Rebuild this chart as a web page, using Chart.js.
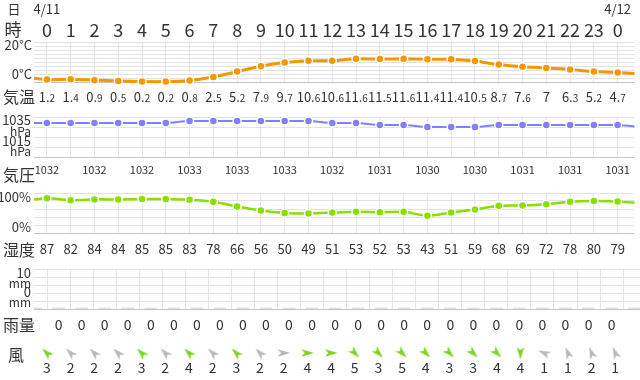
<!DOCTYPE html>
<html><head><meta charset="utf-8">
<script src="https://cdn.jsdelivr.net/npm/chart.js@4.4.1/dist/chart.umd.min.js"></script>
<style>
html,body{margin:0;padding:0;background:#fff;width:640px;height:380px;overflow:hidden;}
canvas{position:absolute;left:0;display:block;}
</style></head><body>
<canvas id="cTemp" width="640" height="110" style="top:0px"></canvas>
<canvas id="cPres" width="640" height="75" style="top:110px"></canvas>
<canvas id="cHum" width="640" height="75" style="top:185px"></canvas>
<canvas id="cRain" width="640" height="77" style="top:260px"></canvas>
<canvas id="cWind" width="640" height="43" style="top:337px"></canvas>
<script>
// ===== data (hour -1 of 4/10 through hour 1 of 4/12; hours -1 and 25 are clipped at the edges) =====
const hours = [-1,0,1,2,3,4,5,6,7,8,9,10,11,12,13,14,15,16,17,18,19,20,21,22,23,24,25];
const shownHours = [0,1,2,3,4,5,6,7,8,9,10,11,12,13,14,15,16,17,18,19,20,21,22,23,24];
const hourLabels = ['0','1','2','3','4','5','6','7','8','9','10','11','12','13','14','15','16','17','18','19','20','21','22','23','0'];
const dateLabels = ['4/11','4/12'];
const dateHours = [0,24];
const temperature = [2.6,1.2,1.4,0.9,0.5,0.2,0.2,0.8,2.5,5.2,7.9,9.7,10.6,10.6,11.6,11.5,11.6,11.4,11.4,10.5,8.7,7.6,7,6.3,5.2,4.7,4.1];
const pressure = [1032,1032,1032,1032,1032,1032,1032,1033,1033,1033,1033,1033,1033,1032,1032,1031,1031,1030,1030,1030,1031,1031,1031,1031,1031,1031,1030];
const pressureLabelHours = [0,2,4,6,8,10,12,14,16,18,20,22,24];
const humidity = [80,87,82,84,84,85,85,83,78,66,56,50,49,51,53,52,53,43,51,59,68,69,72,78,80,79,74];
const rainfall = [0,0,0,0,0,0,0,0,0,0,0,0,0,0,0,0,0,0,0,0,0,0,0,0,0,0,0];
const windSpeed = [3,2,2,2,3,2,4,2,3,2,2,4,4,5,3,5,4,3,3,4,4,1,1,2,1];
const windDir = ['南東','南東','南東','南東','南東','南東','南東','南東','南東','南東','西','西','西','北西','北西','北西','北西','北西','北西','北西','北','東南東','南南東','南南東','南南東'];
const tempTicks = ['20°C','0°C'];
const pressureTicks = [['1035','hPa'],['1015','hPa']];
const humidityTicks = ['100%','0%'];
const rainTicks = [['10','mm'],['0','mm']];
const rowLabels = ['気温','気圧','湿度','雨量','風'];

// ===== helpers =====
const FONT = '"Noto Sans CJK JP", "Noto Sans", sans-serif';
const TXT = '#333333';
const XMIN = -13/24, XMAX = XMIN + 606/24;
const COMPASS = ['北','北北東','北東','東北東','東','東南東','南東','南南東','南','南南西','南西','西南西','西','西北西','北西','北北西'];
function txt(ctx, s, x, y, size, align, color) {
  ctx.font = size + 'px ' + FONT; ctx.fillStyle = color || TXT;
  ctx.textAlign = align || 'center'; ctx.textBaseline = 'middle'; ctx.fillText(s, x, y);
}
function tempText(ctx, v, x, yBase) {
  const parts = String(v).split('.');
  const a = parts.length > 1 ? parts[0] + '.' : parts[0];
  const b = parts.length > 1 ? parts[1] : '';
  ctx.font = '13px ' + FONT; const w1 = ctx.measureText(a).width;
  ctx.font = '10px ' + FONT; const w2 = b ? ctx.measureText(b).width : 0;
  const x0 = x - (w1 + w2) / 2;
  ctx.fillStyle = TXT; ctx.textAlign = 'left'; ctx.textBaseline = 'alphabetic';
  ctx.font = '13px ' + FONT; ctx.fillText(a, x0, yBase);
  if (b) { ctx.font = '10px ' + FONT; ctx.fillText(b, x0 + w1, yBase); }
}
function xScale(offset) {
  return {
    type: 'linear', min: XMIN, max: XMAX, bounds: 'data',
    afterBuildTicks: s => { s.ticks = shownHours.map(v => ({value: v})); },
    border: {display: false},
    ticks: {display: false},
    grid: {color: '#e4e4e4', lineWidth: 1, drawTicks: false, offset: offset}
  };
}
function yScale(min, max, step) {
  return {
    min: min, max: max, border: {display: false},
    ticks: {display: false, stepSize: step},
    grid: {drawTicks: false, lineWidth: 1, color: c => c.tick && c.tick.value === min ? '#c4c4c4' : '#e2e2e2'}
  };
}
function pts(arr) { return arr.map((v, i) => ({x: hours[i], y: v})); }
function lineDs(data, color, width) {
  return {
    type: 'line', data: pts(data), borderColor: color, backgroundColor: color, borderWidth: width,
    pointRadius: 4, pointBorderColor: '#ffffff', pointBorderWidth: 1.5, pointBackgroundColor: color,
    tension: 0.2, clip: {left: 0, right: 0, top: 8, bottom: 8}
  };
}
function baseOpts(padTop, padBottom, y, offsetGrid) {
  return {
    responsive: false, animation: false, devicePixelRatio: 1, events: [],
    layout: {padding: {left: 34, right: 0, top: padTop, bottom: padBottom}},
    plugins: {legend: {display: false}, tooltip: {enabled: false}},
    scales: {x: xScale(offsetGrid), y: y}
  };
}
function textPlugin(top, fn) {
  return { id: 'rowText', afterDraw(chart) {
    const ctx = chart.ctx; ctx.save(); ctx.translate(0, -top);
    fn(ctx, h => chart.scales.x.getPixelForValue(h)); ctx.restore(); } };
}

// ===== temperature =====
new Chart(document.getElementById('cTemp'), {
  type: 'line',
  data: {datasets: [lineDs(temperature, '#f39800', 3)]},
  options: baseOpts(42, 28, yScale(0, 20, 2), false),
  plugins: [textPlugin(0, (ctx, X) => {
    txt(ctx, '日', 14, 9, 13);
    dateLabels.forEach((d, i) => txt(ctx, d, X(dateHours[i]), 9, 13));
    txt(ctx, '時', 13, 30, 17);
    hourLabels.forEach((l, i) => txt(ctx, l, X(shownHours[i]), 30, 18));
    txt(ctx, tempTicks[0], 32, 45, 13, 'right');
    txt(ctx, tempTicks[1], 32, 74, 13, 'right');
    txt(ctx, rowLabels[0], 3, 97, 16, 'left');
    shownHours.forEach(h => tempText(ctx, temperature[hours.indexOf(h)], X(h), 102));
  })]
});

// ===== pressure =====
new Chart(document.getElementById('cPres'), {
  type: 'line',
  data: {datasets: [lineDs(pressure, '#8080ff', 2)]},
  options: baseOpts(7, 28, yScale(1015, 1035, 5), false),
  plugins: [textPlugin(110, (ctx, X) => {
    txt(ctx, pressureTicks[0][0], 31, 120, 13, 'right');
    txt(ctx, pressureTicks[0][1], 31, 131, 12, 'right');
    txt(ctx, pressureTicks[1][0], 31, 141, 13, 'right');
    txt(ctx, pressureTicks[1][1], 31, 151, 12, 'right');
    txt(ctx, rowLabels[1], 3, 175, 16, 'left');
    pressureLabelHours.forEach(h => txt(ctx, String(pressure[hours.indexOf(h)]), X(h), 170, 11));
  })]
});

// ===== humidity =====
new Chart(document.getElementById('cHum'), {
  type: 'line',
  data: {datasets: [lineDs(humidity, '#88e000', 2.5)]},
  options: baseOpts(8, 27, yScale(0, 100, 20), false),
  plugins: [textPlugin(185, (ctx, X) => {
    txt(ctx, humidityTicks[0], 31, 197, 13, 'right');
    txt(ctx, humidityTicks[1], 31, 227, 13, 'right');
    txt(ctx, rowLabels[2], 3, 250, 16, 'left');
    shownHours.forEach(h => txt(ctx, String(humidity[hours.indexOf(h)]), X(h), 249, 13));
  })]
});

// ===== rain =====
new Chart(document.getElementById('cRain'), {
  type: 'bar',
  data: {datasets: [{type: 'bar', data: pts(rainfall), backgroundColor: '#d9d9d9', barThickness: 12, minBarLength: 1, borderWidth: 0}]},
  options: baseOpts(9, 28, yScale(0, 10, 2), true),
  plugins: [textPlugin(260, (ctx, X) => {
    txt(ctx, rainTicks[0][0], 31, 273, 13, 'right');
    txt(ctx, rainTicks[0][1], 31, 283, 12, 'right');
    txt(ctx, rainTicks[1][0], 31, 292, 13, 'right');
    txt(ctx, rainTicks[1][1], 31, 302, 12, 'right');
    txt(ctx, rowLabels[3], 3, 325, 16, 'left');
    shownHours.forEach(h => txt(ctx, String(rainfall[hours.indexOf(h)]), X(h), 325, 14));
  })]
});

// ===== wind =====
function makeArrow(color) {
  const c = document.createElement('canvas'); c.width = 14; c.height = 14;
  const g = c.getContext('2d'); g.fillStyle = color;
  g.beginPath(); g.moveTo(7, 0.5); g.lineTo(10.8, 13); g.lineTo(7, 9.8); g.lineTo(3.2, 13); g.closePath(); g.fill();
  return c;
}
const arrowGreen = makeArrow('#7ed321'), arrowGrey = makeArrow('#b9b9b9');
new Chart(document.getElementById('cWind'), {
  type: 'line',
  data: {datasets: [{
    data: shownHours.map(h => ({x: h, y: rowLabels[4]})), showLine: false,
    pointStyle: windSpeed.map(s => s >= 3 ? arrowGreen : arrowGrey),
    rotation: windDir.map(d => (COMPASS.indexOf(d) * 22.5 + 180) % 360),
    pointRadius: 7, clip: false
  }]},
  options: {
    responsive: false, animation: false, devicePixelRatio: 1, events: [],
    layout: {padding: {left: 34, right: 0, top: 4, bottom: 19}},
    plugins: {legend: {display: false}, tooltip: {enabled: false}},
    scales: {
      x: Object.assign(xScale(false), {display: false}),
      y: {type: 'category', labels: [rowLabels[4]], offset: true, display: false}
    }
  },
  plugins: [textPlugin(337, (ctx, X) => {
    txt(ctx, rowLabels[4], 16, 355, 16, 'center');
    shownHours.forEach((h, i) => txt(ctx, String(windSpeed[i]), X(h), 368, 14));
  })]
});
</script>
</body></html>
